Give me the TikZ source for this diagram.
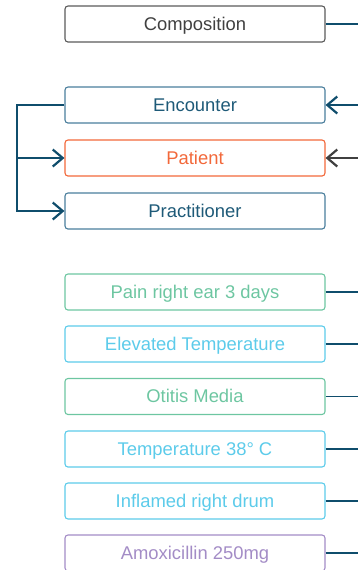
\documentclass[tikz,border=0pt]{standalone}
\usepackage{fontspec}
\setmainfont{Liberation Sans}
\usetikzlibrary{arrows.meta}
\definecolor{compgray}{HTML}{5A5A5A}
\definecolor{comptext}{HTML}{404040}
\definecolor{navyline}{HTML}{0F4D6C}
\definecolor{encborder}{HTML}{4A7E9C}
\definecolor{enctext}{HTML}{1E5A78}
\definecolor{patorange}{HTML}{F2683A}
\definecolor{obsgreen}{HTML}{6DC6A1}
\definecolor{obsblue}{HTML}{5CCBEA}
\definecolor{medpurple}{HTML}{A38CC6}
\tikzset{
    every node/.style={draw, rounded corners=1.5pt, line width=0.55pt,
    	minimum width=130pt, minimum height=18pt, inner sep=0pt,
    	text height=6.4pt, text depth=0pt,
    	font=\fontsize{9.2}{11}\selectfont}
}
\tikzset{
    link/.style={draw=navyline, line width=1.1pt},
    thinlink/.style={draw=navyline, line width=0.6pt},
    tip/.style={-{Straight Barb[length=5pt,width=8.5pt,line width=1.1pt]}}
}

\begin{document}
\begin{tikzpicture}[x=0.5pt,y=-0.5pt]
	\useasboundingbox (0,0) rectangle (358,570);
	\node (comp) [draw=compgray, text=comptext] at (195,24) {Composition};
	\node (enc) [draw=encborder, text=enctext] at (195,105) {Encounter};
	\node (pat) [draw=patorange, text=patorange] at (195,158) {Patient};
	\node (prac) [draw=encborder, text=enctext] at (195,211) {Practitioner};
	\node (pain) [draw=obsgreen, text=obsgreen] at (195,292) {Pain right ear 3 days};
	\node (elev) [draw=obsblue, text=obsblue] at (195,344) {Elevated Temperature};
	\node (otit) [draw=obsgreen, text=obsgreen] at (195,396.5) {Otitis Media};
	\node (temp) [draw=obsblue, text=obsblue] at (195,449) {Temperature 38° C};
	\node (infl) [draw=obsblue, text=obsblue] at (195,501) {Inflamed right drum};
	\node (amox) [draw=medpurple, text=medpurple] at (195,553) {Amoxicillin 250mg};

	\coordinate (br) at (17,105);
	\coordinate (rt) at (358,0);

	% bracket on the left
	\draw[link, tip] (enc.west) -| (br) |- (prac.west);
	\draw[link, tip] (br|-pat.west) -- (pat.west);

	% lines leaving on the right
	\draw[link, tip] (enc.east-|rt) -- (enc.east);
	\draw[link, draw=comptext, tip] (pat.east-|rt) -- (pat.east);
	\foreach \n in {comp, pain, elev, otit, temp, infl}
		\draw[thinlink] (\n.east) -- (\n.east-|rt);
	\draw[link, line width=1.4pt] (amox.east) -- (amox.east-|rt);
\end{tikzpicture}
\end{document}
